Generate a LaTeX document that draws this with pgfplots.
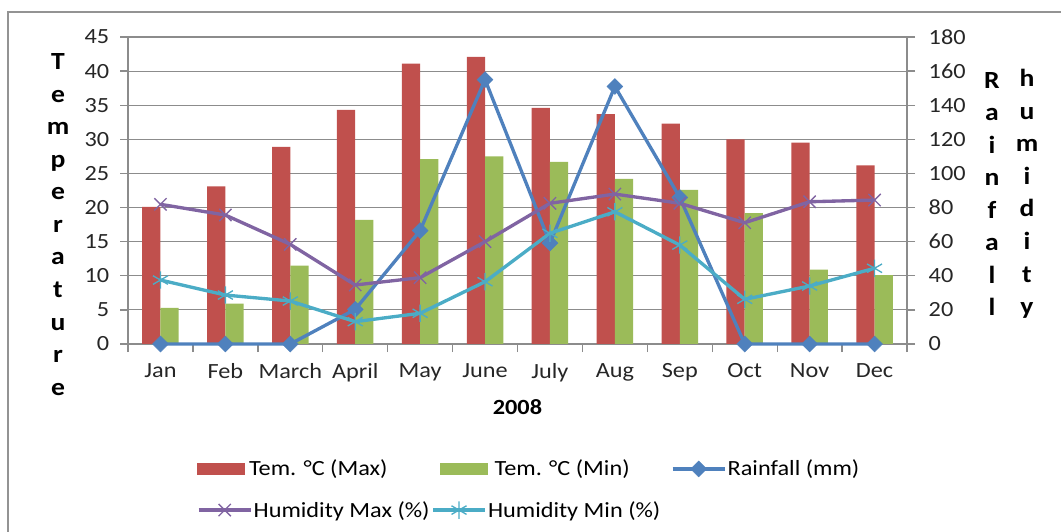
\documentclass[border=0pt]{standalone}
\usepackage{pgfplots}
\pgfplotsset{compat=1.18}
\usepackage{fontspec}
\setmainfont{Carlito}[FakeStretch=1.12]
\definecolor{tmax}{HTML}{C0504D}
\definecolor{tmin}{HTML}{9BBB59}
\definecolor{rain}{HTML}{4F81BD}
\definecolor{hmax}{HTML}{8064A2}
\definecolor{hmin}{HTML}{4BACC6}
\definecolor{gridc}{HTML}{8C8C8C}
\newcommand{\tf}{\fontsize{16.25}{19.5}\selectfont}
\newcommand{\stackfont}{\fontsize{18.5}{24.4}\selectfont\bfseries}
\pgfplotsset{
  myaxis/.style={scale only axis, width=584.25pt, height=230.25pt,
    at={(96pt,141pt)}, anchor=south west, xmin=-0.5, xmax=11.5, ymin=0,
    tick align=outside, major tick length=6pt,
    axis line style={gridc, line width=1pt},
    tick style={gridc, line width=1pt},
    ticklabel style={font=\tf, text=black!85},
    /pgf/number format/assume math mode=true},
  barlegend/.style={legend image code/.code={\fill[##1] (0pt,-4.75pt) rectangle (36pt,4.75pt);}},
  linelegend/.style={legend image code/.code={\draw[mark repeat=2,mark phase=2,##1] plot coordinates {(0pt,0pt) (19.5pt,0pt) (39pt,0pt)};}},
  rainstyle/.style={color=rain, line width=2.5pt, mark=square*, mark size=4.2pt,
    mark options={rotate=45, solid, line width=0.4pt, fill=rain}},
  hmaxstyle/.style={color=hmax, line width=2.5pt, mark=x, mark size=6.5pt,
    mark options={solid, line width=1pt}},
  hminstyle/.style={color=hmin, line width=2.5pt, mark=asterisk, mark size=6.5pt,
    mark options={solid, line width=1pt}},
}
\begin{document}
\begin{tikzpicture}
\path[use as bounding box] (0,0) rectangle (795.75pt,399pt);
\draw[color=gray!85, line width=1.5pt] (6pt,-1pt) -- (6pt,390pt) -- (797pt,390pt);

\begin{axis}[myaxis, ymax=45, ytick={0,5,...,45},
  axis x line*=bottom, axis y line*=left,
  ymajorgrids, grid style={gridc, line width=0.9pt},
  xtick={-0.5,0.5,...,11.5}, xticklabels={},
  extra x ticks={0,1,...,11},
  extra x tick labels={Jan,Feb,March,April,May,June,July,Aug,Sep,Oct,Nov,Dec},
  extra x tick style={major tick length=0pt, grid=none},
  xticklabel style={yshift=-11pt},
  yticklabel style={xshift=-4.5pt},
  legend columns=-1,
  legend style={draw=none, fill=none, font=\tf, inner sep=0pt, outer sep=0pt,
    column sep=0pt, nodes={inner sep=0pt},
    at={(axis description cs:0.0886,-0.407)}, anchor=west},
  legend cell align=left]
\addplot[ybar, bar width=13.7pt, bar shift=-6.85pt, fill=tmax, draw=none, barlegend]
  coordinates {(0,20.1) (1,23.1) (2,28.9) (3,34.3) (4,41.1) (5,42.1) (6,34.6) (7,33.7) (8,32.3) (9,30.0) (10,29.5) (11,26.2)};
\addlegendentry{\makebox[146.25pt][l]{\hspace{3pt}Tem. °C (Max)}}
\addplot[ybar, bar width=13.7pt, bar shift=6.85pt, fill=tmin, draw=none, barlegend]
  coordinates {(0,5.3) (1,5.9) (2,11.5) (3,18.2) (4,27.1) (5,27.5) (6,26.7) (7,24.2) (8,22.6) (9,19.2) (10,10.9) (11,10.1)};
\addlegendentry{\makebox[137.25pt][l]{\hspace{5pt}Tem. °C (Min)}}
\addlegendimage{rainstyle, linelegend}
\addlegendentry{\hspace{1pt}Rainfall (mm)}
\end{axis}

\begin{axis}[myaxis, ymax=180, ytick={0,20,...,180},
  axis y line*=right, axis x line=none, clip=false,
  yticklabel style={xshift=6.75pt},
  legend columns=-1,
  legend style={draw=none, fill=none, font=\tf, inner sep=0pt, outer sep=0pt,
    column sep=0pt, nodes={inner sep=0pt},
    at={(axis description cs:0.0886,-0.541)}, anchor=west},
  legend cell align=left]
\addplot[rainstyle, forget plot]
  coordinates {(0,0) (1,0) (2,0) (3,20.3) (4,66.5) (5,155) (6,59.2) (7,151) (8,85.9) (9,0) (10,0) (11,0)};
\addplot[hmaxstyle, linelegend]
  coordinates {(0,81.9) (1,75.6) (2,58.4) (3,34.6) (4,38.9) (5,60) (6,82.5) (7,87.9) (8,82.5) (9,71.1) (10,83.4) (11,84.4)};
\addlegendentry{\makebox[134.25pt][l]{\hspace{1pt}Humidity Max (\%)}}
\addplot[hminstyle, linelegend]
  coordinates {(0,37.5) (1,28.7) (2,25.2) (3,13.1) (4,18) (5,36.5) (6,64.9) (7,77.5) (8,58) (9,26.2) (10,34) (11,44.4)};
\addlegendentry{\hspace{1pt}Humidity Min (\%)}
\end{axis}

\node[font=\bfseries\fontsize{16.25}{19.5}\selectfont] at (388.1pt,93.75pt) {2008};
\node[font=\stackfont, align=center] at (43.5pt,230.6pt) {T\\e\\m\\p\\e\\r\\a\\t\\u\\r\\e};
\node[font=\stackfont, align=center] at (744pt,253.5pt) {R\\a\\i\\n\\f\\a\\l\\l};
\node[font=\stackfont, align=center] at (770.25pt,253.5pt) {h\\u\\m\\i\\d\\i\\t\\y};
\end{tikzpicture}
\end{document}
